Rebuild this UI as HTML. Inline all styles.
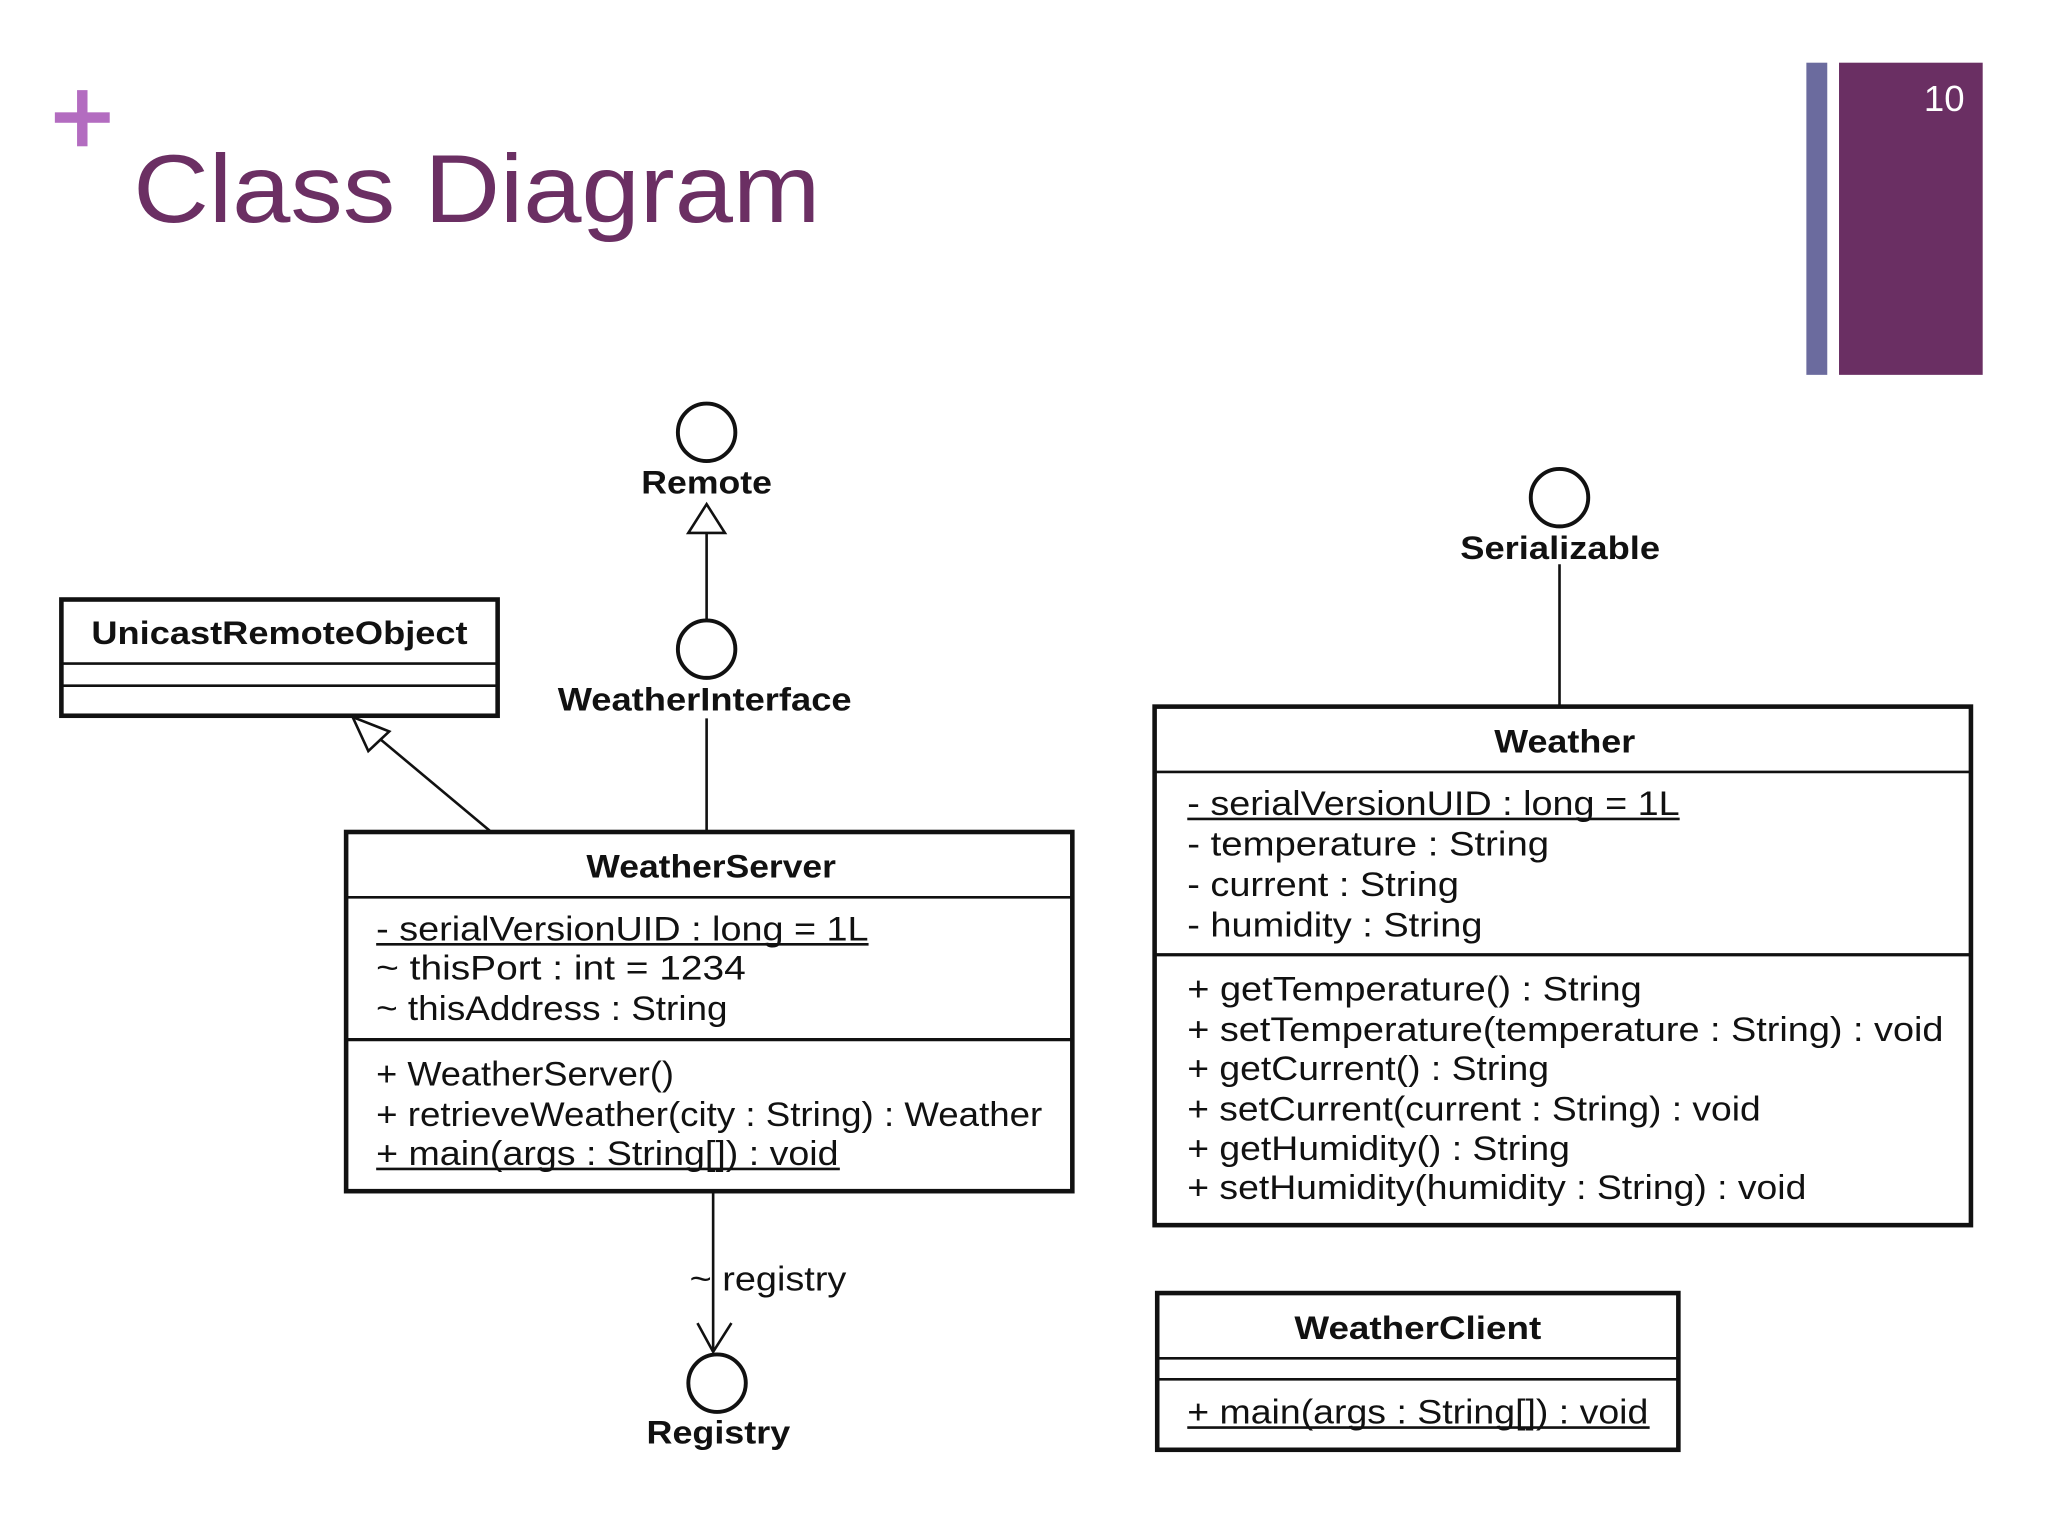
<!DOCTYPE html>
<html><head><meta charset="utf-8"><style>
html,body{margin:0;padding:0;background:#fff;}
svg{display:block;}
text{font-family:"Liberation Sans",sans-serif;fill:#111;}
.b{font-weight:bold;font-size:25px;}
.t{font-size:26px;}
</style></head><body>
<svg width="2048" height="1536" viewBox="0 0 1568 1176" xmlns="http://www.w3.org/2000/svg">
<rect width="1568" height="1176" fill="#fff"/>
<!-- header -->
<rect x="42" y="86" width="42" height="8" fill="#b36cc0"/>
<rect x="59" y="69" width="8" height="43" fill="#b36cc0"/>
<text x="102" y="170" textLength="526" lengthAdjust="spacingAndGlyphs" style="font-size:74px;fill:#6b2f63">Class Diagram</text>
<rect x="1383" y="48" width="16" height="239" fill="#6b6b9e"/>
<rect x="1408" y="48" width="110" height="239" fill="#6a2f63"/>
<text x="1473" y="85" style="font-size:28px;fill:#fff">10</text>

<g stroke="#111" fill="none">
<circle cx="541" cy="331" r="22" stroke-width="3"/>
<polygon points="541,386 527,408 555,408" stroke-width="2" fill="#fff"/>
<line x1="541" y1="408" x2="541" y2="475" stroke-width="2"/>
<circle cx="541" cy="497" r="22" stroke-width="3"/>
<line x1="541" y1="550" x2="541" y2="637" stroke-width="2"/>
<rect x="47" y="459" width="334" height="89" stroke-width="3.5"/>
<line x1="47" y1="508" x2="381" y2="508" stroke-width="2"/>
<line x1="47" y1="525" x2="381" y2="525" stroke-width="2"/>
<line x1="375" y1="636" x2="290" y2="565" stroke-width="2"/>
<polygon points="270,549 298,560 282,575" stroke-width="2" fill="#fff"/>
<rect x="265" y="637" width="556" height="275" stroke-width="3.5"/>
<line x1="265" y1="687" x2="821" y2="687" stroke-width="2"/>
<line x1="265" y1="796" x2="821" y2="796" stroke-width="2.5"/>
<line x1="546" y1="912" x2="546" y2="1035" stroke-width="2"/>
<polyline points="534,1013 546,1035 560,1013" stroke-width="2"/>
<circle cx="549" cy="1059" r="22" stroke-width="3"/>
<circle cx="1194" cy="381" r="22" stroke-width="3"/>
<line x1="1194" y1="432" x2="1194" y2="541" stroke-width="2"/>
<rect x="884" y="541" width="625" height="397" stroke-width="3.5"/>
<line x1="884" y1="591" x2="1509" y2="591" stroke-width="2"/>
<line x1="884" y1="731" x2="1509" y2="731" stroke-width="2.5"/>
<rect x="886" y="990" width="399" height="120" stroke-width="3.5"/>
<line x1="886" y1="1040" x2="1285" y2="1040" stroke-width="2"/>
<line x1="886" y1="1056" x2="1285" y2="1056" stroke-width="2"/>
<line x1="288" y1="723" x2="665" y2="723" stroke-width="2"/>
<line x1="288" y1="895" x2="643" y2="895" stroke-width="2"/>
<line x1="909" y1="627" x2="1286" y2="627" stroke-width="2"/>
<line x1="909" y1="1093" x2="1263" y2="1093" stroke-width="2"/>
</g>

<text class="b" x="491" y="378" textLength="100" lengthAdjust="spacingAndGlyphs">Remote</text>
<text class="b" x="427" y="544" textLength="225" lengthAdjust="spacingAndGlyphs">WeatherInterface</text>
<text class="b" x="1118" y="428" textLength="153" lengthAdjust="spacingAndGlyphs">Serializable</text>
<text class="b" x="495" y="1105" textLength="110" lengthAdjust="spacingAndGlyphs">Registry</text>
<text class="b" x="70" y="493" textLength="288" lengthAdjust="spacingAndGlyphs">UnicastRemoteObject</text>
<text class="b" x="449" y="672" textLength="191" lengthAdjust="spacingAndGlyphs">WeatherServer</text>
<text class="b" x="1144" y="576" textLength="108" lengthAdjust="spacingAndGlyphs">Weather</text>
<text class="b" x="991" y="1025" textLength="189" lengthAdjust="spacingAndGlyphs">WeatherClient</text>

<text class="t" x="528" y="988" textLength="120" lengthAdjust="spacingAndGlyphs">~ registry</text>

<text class="t" x="288" y="720" textLength="377" lengthAdjust="spacingAndGlyphs">- serialVersionUID : long = 1L</text>
<text class="t" x="288" y="750" textLength="283" lengthAdjust="spacingAndGlyphs">~ thisPort : int = 1234</text>
<text class="t" x="288" y="781" textLength="269" lengthAdjust="spacingAndGlyphs">~ thisAddress : String</text>
<text class="t" x="288" y="831" textLength="228" lengthAdjust="spacingAndGlyphs">+ WeatherServer()</text>
<text class="t" x="288" y="862" textLength="510" lengthAdjust="spacingAndGlyphs">+ retrieveWeather(city : String) : Weather</text>
<text class="t" x="288" y="892" textLength="354" lengthAdjust="spacingAndGlyphs">+ main(args : String[]) : void</text>

<text class="t" x="909" y="624" textLength="377" lengthAdjust="spacingAndGlyphs">- serialVersionUID : long = 1L</text>
<text class="t" x="909" y="655" textLength="277" lengthAdjust="spacingAndGlyphs">- temperature : String</text>
<text class="t" x="909" y="686" textLength="208" lengthAdjust="spacingAndGlyphs">- current : String</text>
<text class="t" x="909" y="717" textLength="226" lengthAdjust="spacingAndGlyphs">- humidity : String</text>
<text class="t" x="909" y="766" textLength="348" lengthAdjust="spacingAndGlyphs">+ getTemperature() : String</text>
<text class="t" x="909" y="797" textLength="579" lengthAdjust="spacingAndGlyphs">+ setTemperature(temperature : String) : void</text>
<text class="t" x="909" y="827" textLength="277" lengthAdjust="spacingAndGlyphs">+ getCurrent() : String</text>
<text class="t" x="909" y="858" textLength="439" lengthAdjust="spacingAndGlyphs">+ setCurrent(current : String) : void</text>
<text class="t" x="909" y="888" textLength="293" lengthAdjust="spacingAndGlyphs">+ getHumidity() : String</text>
<text class="t" x="909" y="918" textLength="474" lengthAdjust="spacingAndGlyphs">+ setHumidity(humidity : String) : void</text>

<text class="t" x="909" y="1090" textLength="353" lengthAdjust="spacingAndGlyphs">+ main(args : String[]) : void</text>
</svg>
</body></html>
